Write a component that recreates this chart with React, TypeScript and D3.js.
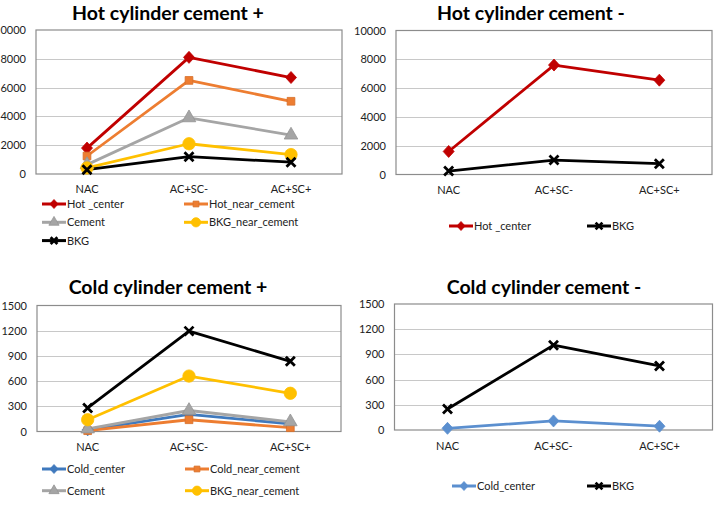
import React, { useEffect, useRef } from "react";
import * as d3 from "d3";

const categories = ["NAC", "AC+SC-", "AC+SC+"];
const hotTicks = [0, 2000, 4000, 6000, 8000, 10000];
const coldTicks = [0, 300, 600, 900, 1200, 1500];

const hotPlusCenter = [1800, 8100, 6700];
const hotPlusNear = [1250, 6500, 5050];
const hotPlusCement = [650, 3900, 2700];
const hotPlusBkgNear = [420, 2100, 1350];
const hotPlusBkg = [300, 1200, 820];

const hotMinusCenter = [1600, 7600, 6550];
const hotMinusBkg = [240, 1000, 750];

const coldPlusCenter = [20, 205, 90];
const coldPlusNear = [10, 140, 45];
const coldPlusCement = [30, 250, 115];
const coldPlusBkgNear = [140, 660, 455];
const coldPlusBkg = [280, 1195, 835];

const coldMinusCenter = [20, 108, 45];
const coldMinusBkg = [250, 1010, 762];

const FONT = "Lato, 'Open Sans', sans-serif";

type Series = { name: string; values: number[]; color: string; marker: string };

const panels = [
  {
    title: "Hot cylinder cement +",
    titleX: 168, titleY: 20,
    box: { left: 36, right: 342, top: 30, bottom: 174 },
    ticks: hotTicks,
    labelY: 193,
    legend: { x: 42, y: 204, colW: 142, rowH: 18.3 },
    series: [
      { name: "Hot _center", values: hotPlusCenter, color: "#c00000", marker: "diamond" },
      { name: "Hot_near_cement", values: hotPlusNear, color: "#ed7d31", marker: "square" },
      { name: "Cement", values: hotPlusCement, color: "#a5a5a5", marker: "triangle" },
      { name: "BKG_near_cement", values: hotPlusBkgNear, color: "#ffc000", marker: "circle" },
      { name: "BKG", values: hotPlusBkg, color: "#000000", marker: "x" },
    ] as Series[],
  },
  {
    title: "Hot cylinder cement -",
    titleX: 531, titleY: 20,
    box: { left: 396, right: 712, top: 30.5, bottom: 174.5 },
    ticks: hotTicks,
    labelY: 194,
    legend: { x: 449, y: 226, colW: 138, rowH: 18 },
    series: [
      { name: "Hot _center", values: hotMinusCenter, color: "#c00000", marker: "diamond" },
      { name: "BKG", values: hotMinusBkg, color: "#000000", marker: "x" },
    ] as Series[],
  },
  {
    title: "Cold cylinder cement +",
    titleX: 168, titleY: 294,
    box: { left: 37, right: 341, top: 305.5, bottom: 431.5 },
    ticks: coldTicks,
    labelY: 451,
    legend: { x: 42, y: 469, colW: 143, rowH: 21.7 },
    series: [
      { name: "Cold_center", values: coldPlusCenter, color: "#3f79bd", marker: "diamond" },
      { name: "Cold_near_cement", values: coldPlusNear, color: "#ed7d31", marker: "square" },
      { name: "Cement", values: coldPlusCement, color: "#a5a5a5", marker: "triangle" },
      { name: "BKG_near_cement", values: coldPlusBkgNear, color: "#ffc000", marker: "circle" },
      { name: "BKG", values: coldPlusBkg, color: "#000000", marker: "x" },
    ] as Series[],
  },
  {
    title: "Cold cylinder cement -",
    titleX: 544, titleY: 294,
    box: { left: 394.5, right: 712.5, top: 304, bottom: 430 },
    ticks: coldTicks,
    labelY: 450,
    legend: { x: 452, y: 486, colW: 135, rowH: 18 },
    series: [
      { name: "Cold_center", values: coldMinusCenter, color: "#5b8fcf", marker: "diamond" },
      { name: "BKG", values: coldMinusBkg, color: "#000000", marker: "x" },
    ] as Series[],
  },
];

function drawMarker(g: any, type: string, x: number, y: number, color: string, small: boolean) {
  const k = small ? 0.75 : 1;
  if (type === "x") {
    const h = 4.5 * k;
    const p = d3.path();
    p.moveTo(x - h, y - h); p.lineTo(x + h, y + h);
    p.moveTo(x + h, y - h); p.lineTo(x - h, y + h);
    g.append("path").attr("d", p.toString()).attr("stroke", color).attr("stroke-width", 2.8).attr("fill", "none");
    return;
  }
  if (type === "diamond") {
    const w = 5.5 * k, h = 6 * k;
    const p = d3.path();
    p.moveTo(x, y - h); p.lineTo(x + w, y); p.lineTo(x, y + h); p.lineTo(x - w, y); p.closePath();
    g.append("path").attr("d", p.toString()).attr("fill", color).attr("stroke", color).attr("stroke-width", 0.8);
    return;
  }
  const sym: any = {
    square: [d3.symbolSquare, 60],
    triangle: [d3.symbolTriangle, 80],
    circle: [d3.symbolCircle, 120],
  }[type];
  g.append("path")
    .attr("d", d3.symbol().type(sym[0]).size(sym[1] * k * k)())
    .attr("transform", `translate(${x},${y})`)
    .attr("fill", color)
    .attr("stroke", type === "square" || type === "triangle" ? d3.color(color)!.darker(0.3).toString() : color)
    .attr("stroke-width", 0.8);
}

const App = () => {
  const ref = useRef<SVGSVGElement>(null);
  useEffect(() => {
    const svg = d3.select(ref.current);
    svg.selectAll("*").remove();
    svg.append("rect").attr("width", 720).attr("height", 508).attr("fill", "#fff");

    panels.forEach((p) => {
      const g = svg.append("g");
      const { left, right, top, bottom } = p.box;
      const x = d3.scaleBand().domain(categories).range([left, right]);
      const y = d3.scaleLinear().domain([0, p.ticks[p.ticks.length - 1]]).range([bottom, top]);

      g.append("text")
        .attr("x", p.titleX).attr("y", p.titleY)
        .attr("text-anchor", "middle")
        .style("font-family", FONT).style("font-weight", "bold").style("font-size", "19.5px")
        .text(p.title);

      // gridlines
      g.selectAll(".grid")
        .data(p.ticks.slice(1, -1))
        .join("line")
        .attr("x1", left).attr("x2", right)
        .attr("y1", (d) => Math.round(y(d)) + 0.5).attr("y2", (d) => Math.round(y(d)) + 0.5)
        .attr("stroke", "#c8c8c8").attr("stroke-width", 1);

      g.append("rect")
        .attr("x", left).attr("y", top)
        .attr("width", right - left).attr("height", bottom - top)
        .attr("fill", "none").attr("stroke", "#8c8c8c").attr("stroke-width", 1.2);

      g.selectAll(".ytick")
        .data(p.ticks)
        .join("text")
        .attr("x", left - 10).attr("y", (d) => y(d) + 4)
        .attr("text-anchor", "end")
        .style("font-family", FONT).style("font-size", "11px").attr("fill", "#222")
        .text((d) => String(d));

      g.selectAll(".xtick")
        .data(categories)
        .join("text")
        .attr("x", (d) => x(d)! + x.bandwidth() / 2).attr("y", p.labelY)
        .attr("text-anchor", "middle")
        .style("font-family", FONT).style("font-size", "11px").attr("fill", "#222")
        .text((d) => d);

      const line = d3.line<number>()
        .x((_, i) => x(categories[i])! + x.bandwidth() / 2)
        .y((d) => y(d));

      p.series.forEach((s) => {
        g.append("path")
          .attr("d", line(s.values))
          .attr("fill", "none").attr("stroke", s.color)
          .attr("stroke-width", 2.8).attr("stroke-linejoin", "round");
      });
      p.series.forEach((s) => {
        s.values.forEach((v, i) => {
          drawMarker(g, s.marker, x(categories[i])! + x.bandwidth() / 2, y(v), s.color, false);
        });
      });

      // legend
      p.series.forEach((s, i) => {
        const col = i % 2, row = Math.floor(i / 2);
        const lx = p.legend.x + col * p.legend.colW;
        const ly = p.legend.y + row * p.legend.rowH;
        g.append("line")
          .attr("x1", lx).attr("x2", lx + 24).attr("y1", ly).attr("y2", ly)
          .attr("stroke", s.color).attr("stroke-width", 3);
        drawMarker(g, s.marker, lx + 12, ly, s.color, true);
        g.append("text")
          .attr("x", lx + 25).attr("y", ly + 4)
          .style("font-family", FONT).style("font-size", "11px").attr("fill", "#222")
          .text(s.name);
      });
    });
  }, []);

  return (
    <svg
      ref={ref}
      width={720}
      height={508}
      style={{ position: "absolute", left: 0, top: 0 }}
    />
  );
};

export default App;
